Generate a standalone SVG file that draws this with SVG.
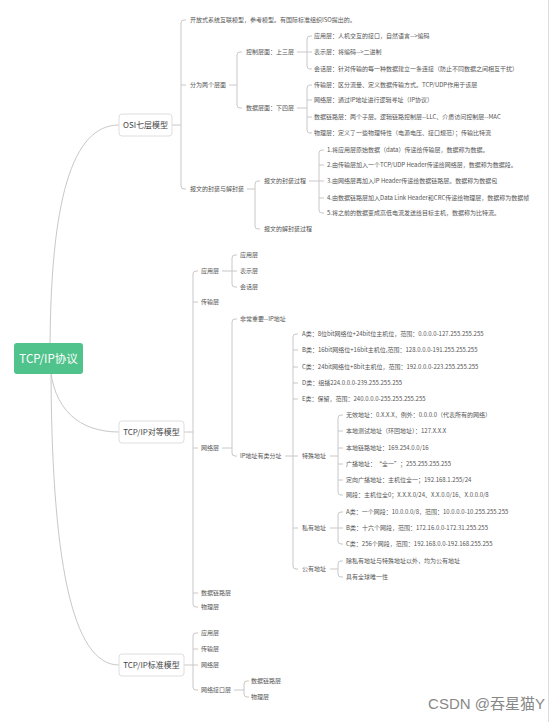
<svg xmlns="http://www.w3.org/2000/svg" width="552" height="722" viewBox="0 0 552 722">
<style>
.ln{fill:none;stroke:#c8c8c8;stroke-width:1}
.t{font-family:"Noto Sans CJK SC","Noto Sans",sans-serif;font-size:6px;fill:#555}
.m{font-family:"Noto Sans CJK SC","Noto Sans",sans-serif;font-size:8px;fill:#444;text-anchor:middle}
.box{fill:#fff;stroke:#dedede;stroke-width:1}
</style>
<rect x="0" y="0" width="552" height="722" fill="#fff"/>
<line x1="548.5" y1="0" x2="548.5" y2="722" stroke="#dcdcdc"/>
<g id="connectors">
<path class="ln" d="M50 355 C50 200 72 125 119 125"/>
<path class="ln" d="M50 362 C52 410 80 432 119 432"/>
<path class="ln" d="M51 362 C51 560 72 665 119 665"/>
<path class="ln" d="M186 20 H184 Q181 20 181 23 V186 Q181 189 184 189 H186 M181 85 H186 M172 125 H181"/>
<path class="ln" d="M242 52 H240 Q237 52 237 55 V105 Q237 108 240 108 H242 M229 85 H237"/>
<path class="ln" d="M312 36 H310 Q307 36 307 39 V66 Q307 69 310 69 H312 M307 52 H312 M297 52 H307"/>
<path class="ln" d="M312 85 H310 Q307 85 307 88 V130 Q307 133 310 133 H312 M307 100 H312 M307 117 H312 M297 108 H307"/>
<path class="ln" d="M260 181 H258 Q255 181 255 184 V226 Q255 229 258 229 H260 M247 189 H255"/>
<path class="ln" d="M324 150 H322 Q319 150 319 153 V210 Q319 213 322 213 H324 M319 165 H324 M319 181 H324 M319 198 H324 M309 181 H319"/>
<path class="ln" d="M198 271 H196 Q193 271 193 274 V604 Q193 607 196 607 H198 M193 302 H198 M193 448 H198 M193 593 H198 M184 432 H193"/>
<path class="ln" d="M237 255 H235 Q232 255 232 258 V284 Q232 287 235 287 H237 M232 271 H237 M222 271 H232"/>
<path class="ln" d="M237 319 H235 Q232 319 232 322 V453 Q232 456 235 456 H237 M222 448 H232"/>
<path class="ln" d="M298 334 H296 Q293 334 293 337 V566 Q293 569 296 569 H298 M293 350 H298 M293 367 H298 M293 383 H298 M293 399 H298 M293 456 H298 M293 528 H298 M285 456 H293"/>
<path class="ln" d="M343 415 H341 Q338 415 338 418 V492 Q338 495 341 495 H343 M338 431 H343 M338 448 H343 M338 464 H343 M338 480 H343 M330 456 H338"/>
<path class="ln" d="M343 512 H341 Q338 512 338 515 V541 Q338 544 341 544 H343 M338 528 H343 M330 528 H338"/>
<path class="ln" d="M343 561 H341 Q338 561 338 564 V574 Q338 577 341 577 H343 M330 569 H338"/>
<path class="ln" d="M198 633 H196 Q193 633 193 636 V687 Q193 690 196 690 H198 M193 649 H198 M193 665 H198 M184 665 H193"/>
<path class="ln" d="M249 681 H247 Q244 681 244 684 V694 Q244 697 247 697 H249 M234 690 H244"/>
</g>
<g id="root">
<rect x="14" y="343" width="69" height="31" rx="3" fill="#4fc38b"/>
<text x="48.5" y="362.5" font-family="Noto Sans CJK SC,Noto Sans,sans-serif" font-size="11.5" fill="#fff" text-anchor="middle">TCP/IP协议</text>
</g>
<g id="osi">
<rect class="box" x="119" y="114" width="53" height="22" rx="3"/>
<text class="m" x="145.5" y="128">OSI七层模型</text>
</g>
<g id="osi-children">
<text class="t" x="190" y="22.2">开放式系统互联模型，参考模型。有国际标准组织ISO提出的。</text>
<text class="t" x="190" y="87.2">分为两个层面</text>
<text class="t" x="246" y="54.2">控制层面：上三层</text>
<text class="t" x="314" y="38.2">应用层：人机交互的接口，自然语言--&gt;编码</text>
<text class="t" x="314" y="54.2">表示层：将编码--&gt;二进制</text>
<text class="t" x="314" y="71.2">会话层：针对传输的每一种数据建立一条连接（防止不同数据之间相互干扰）</text>
<text class="t" x="246" y="110.2">数据层面：下四层</text>
<text class="t" x="314" y="87.2">传输层：区分流量、定义数据传输方式。TCP/UDP作用于该层</text>
<text class="t" x="314" y="102.2">网络层：通过IP地址进行逻辑寻址（IP协议）</text>
<text class="t" x="314" y="119.2">数据链路层：两个子层。逻辑链路控制层--LLC、介质访问控制层--MAC</text>
<text class="t" x="314" y="135.2">物理层：定义了一些物理特性（电源电压、接口规范）；传输比特流</text>
<text class="t" x="190" y="191.2">报文的封装与解封装</text>
<text class="t" x="264" y="183.2">报文的封装过程</text>
<text class="t" x="327" y="152.2">1.将应用层原始数据（data）传递给传输层，数据称为数据。</text>
<text class="t" x="327" y="167.2">2.由传输层加入一个TCP/UDP Header传递给网络层，数据称为数据段。</text>
<text class="t" x="327" y="183.2">3.由网络层再加入IP Header传递给数据链路层。数据称为数据包</text>
<text class="t" x="327" y="200.2">4.由数据链路层加入Data Link Header和CRC传递给物理层，数据称为数据帧</text>
<text class="t" x="327" y="215.2">5.将之前的数据变成高低电流发送给目标主机，数据称为比特流。</text>
<text class="t" x="264" y="231.2">报文的解封装过程</text>
</g>
<g id="peer">
<rect class="box" x="119" y="421" width="65" height="22" rx="3"/>
<text class="m" x="151.5" y="435">TCP/IP对等模型</text>
</g>
<g id="peer-children">
<text class="t" x="201" y="273.2">应用层</text>
<text class="t" x="240" y="257.2">应用层</text>
<text class="t" x="240" y="273.2">表示层</text>
<text class="t" x="240" y="289.2">会话层</text>
<text class="t" x="201" y="304.2">传输层</text>
<text class="t" x="201" y="450.2">网络层</text>
<text class="t" x="240" y="321.2">非常重要--IP地址</text>
<text class="t" x="240" y="458.2">IP地址有类分址</text>
<text class="t" x="302" y="336.2">A类：8位bit网络位+24bit位主机位，范围：0.0.0.0-127.255.255.255</text>
<text class="t" x="302" y="352.2">B类：16bit网络位+16bit主机位,范围：128.0.0.0-191.255.255.255</text>
<text class="t" x="302" y="369.2">C类：24bit网络位+8bit主机位，范围：192.0.0.0-223.255.255.255</text>
<text class="t" x="302" y="385.2">D类：组播224.0.0.0-239.255.255.255</text>
<text class="t" x="302" y="401.2">E类：保留，范围：240.0.0.0-255.255.255.255</text>
<text class="t" x="302" y="458.2">特殊地址</text>
<text class="t" x="346" y="417.2">无效地址：0.X.X.X，例外：0.0.0.0（代表所有的网络）</text>
<text class="t" x="346" y="433.2">本地测试地址（环回地址）：127.X.X.X</text>
<text class="t" x="346" y="450.2">本地链路地址：169.254.0.0/16</text>
<text class="t" x="346" y="466.2">广播地址：“全一”；255.255.255.255</text>
<text class="t" x="346" y="482.2">定向广播地址：主机位全一；192.168.1.255/24</text>
<text class="t" x="346" y="497.2">网段：主机位全0；X.X.X.0/24、X.X.0.0/16、X.0.0.0/8</text>
<text class="t" x="302" y="530.2">私有地址</text>
<text class="t" x="346" y="514.2">A类：一个网段：10.0.0.0/8，范围：10.0.0.0-10.255.255.255</text>
<text class="t" x="346" y="530.2">B类：十六个网段，范围：172.16.0.0-172.31.255.255</text>
<text class="t" x="346" y="546.2">C类：256个网段，范围：192.168.0.0-192.168.255.255</text>
<text class="t" x="302" y="571.2">公有地址</text>
<text class="t" x="346" y="563.2">除私有地址与特殊地址以外，均为公有地址</text>
<text class="t" x="346" y="579.2">具有全球唯一性</text>
<text class="t" x="201" y="595.2">数据链路层</text>
<text class="t" x="201" y="609.2">物理层</text>
</g>
<g id="standard">
<rect class="box" x="119" y="654" width="65" height="22" rx="3"/>
<text class="m" x="151.5" y="668">TCP/IP标准模型</text>
</g>
<g id="standard-children">
<text class="t" x="201" y="635.2">应用层</text>
<text class="t" x="201" y="651.2">传输层</text>
<text class="t" x="201" y="667.2">网络层</text>
<text class="t" x="201" y="692.2">网络接口层</text>
<text class="t" x="251" y="683.2">数据链路层</text>
<text class="t" x="251" y="699.2">物理层</text>
</g>
<text x="545" y="709" font-family="Liberation Sans,Noto Sans CJK SC,sans-serif" font-size="15" fill="#888" text-anchor="end">CSDN @吞星猫Y</text>
</svg>
